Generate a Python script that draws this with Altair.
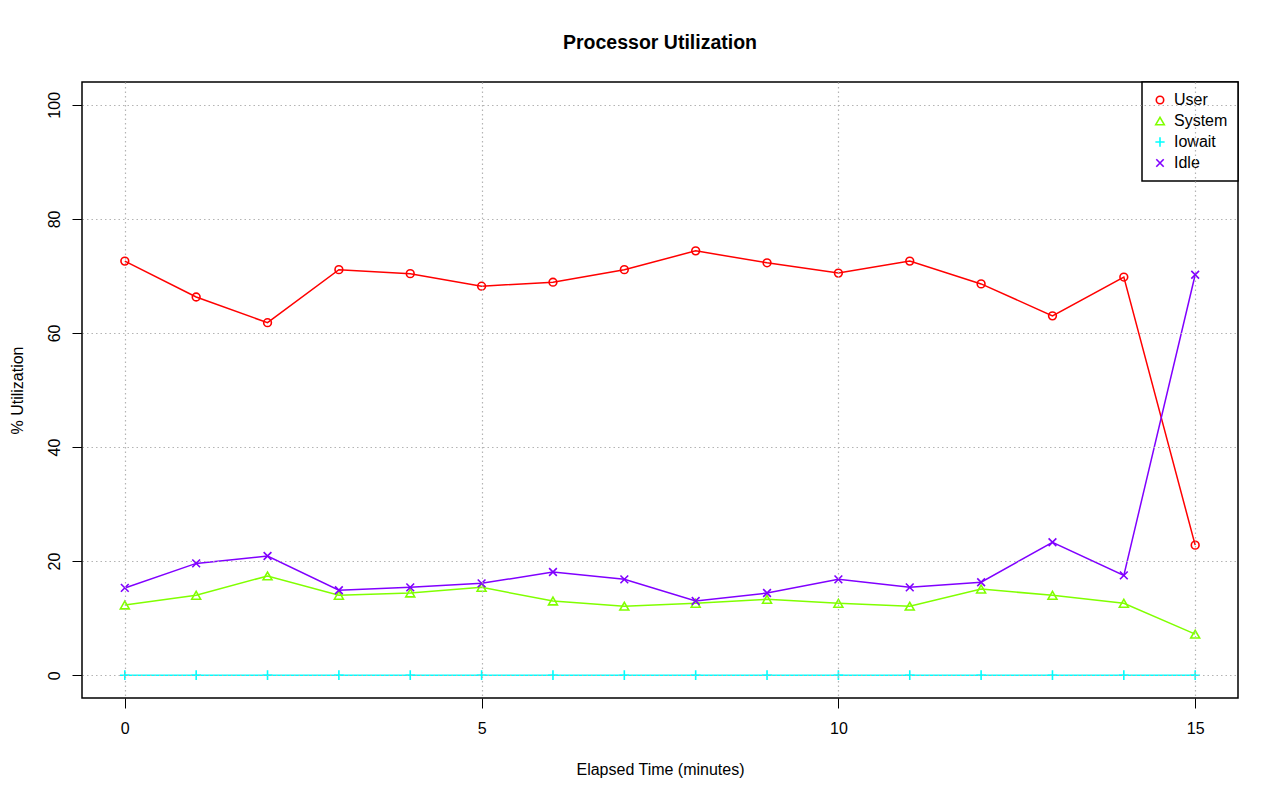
import altair as alt
import pandas as pd

minutes = list(range(16))
user = [72.6, 66.3, 61.8, 71.1, 70.4, 68.2, 68.9, 71.1, 74.4, 72.3, 70.5, 72.6, 68.6, 63.0, 69.8, 22.8]
system = [12.3, 14.0, 17.4, 14.0, 14.4, 15.4, 13.0, 12.1, 12.6, 13.3, 12.6, 12.1, 15.1, 14.0, 12.6, 7.2]
iowait = [0.0] * 16
idle = [15.3, 19.6, 20.9, 14.9, 15.4, 16.1, 18.1, 16.8, 13.0, 14.4, 16.8, 15.4, 16.3, 23.3, 17.5, 70.2]

series_names = ["User", "System", "Iowait", "Idle"]
series_colors = ["#FF0000", "#80FF00", "#00FFFF", "#8000FF"]
series_shapes = [
    "circle",
    "M-1.15,1L1.15,1L0,-1Z",
    "M-1.25,0L1.25,0M0,-1.25L0,1.25",
    "M-1,-1L1,1M-1,1L1,-1",
]
x_ticks = [0, 5, 10, 15]
y_ticks = [0, 20, 40, 60, 80, 100]

rows = []
for name, vals in zip(series_names, [user, system, iowait, idle]):
    for m, v in zip(minutes, vals):
        rows.append({"minute": m, "value": v, "series": name})
df = pd.DataFrame(rows)

FONT = "Liberation Sans"

x_enc = alt.X(
    "minute:Q",
    scale=alt.Scale(domain=[-0.6, 15.6], nice=False, zero=False),
    axis=alt.Axis(
        values=x_ticks, title="Elapsed Time (minutes)", grid=True,
        gridColor="#b4b4b4", gridDash=[1.5, 3], gridWidth=1.2,
        domain=False, tickColor="black", tickSize=10, tickWidth=1,
        labelFontSize=16, labelFont=FONT, labelColor="black", labelPadding=12,
        titleFontSize=16, titleFont=FONT, titleFontWeight="normal", titleColor="black",
        titlePadding=25, zindex=1,
    ),
)
y_enc = alt.Y(
    "value:Q",
    scale=alt.Scale(domain=[-4, 104], nice=False, zero=False),
    axis=alt.Axis(
        values=y_ticks, title="% Utilization", grid=True,
        gridColor="#b4b4b4", gridDash=[1.5, 3], gridWidth=1.2,
        domain=False, tickColor="black", tickSize=10, tickWidth=1,
        labelFontSize=16, labelFont=FONT, labelColor="black", labelAngle=270,
        labelAlign="center", labelBaseline="bottom", labelPadding=10,
        titleFontSize=16, titleFont=FONT, titleFontWeight="normal", titleColor="black",
        titlePadding=21, zindex=1,
    ),
)

color_scale = alt.Scale(domain=series_names, range=series_colors)
shape_scale = alt.Scale(domain=series_names, range=series_shapes)

lines = alt.Chart(df).mark_line(strokeWidth=1.5).encode(
    x=x_enc, y=y_enc,
    color=alt.Color("series:N", scale=color_scale, sort=series_names,
                    legend=alt.Legend(title=None)),
    detail="series:N",
)

points = alt.Chart(df).mark_point(filled=False, strokeWidth=1.6, size=60, opacity=1).encode(
    x=x_enc, y=y_enc,
    color=alt.Color("series:N", scale=color_scale, sort=series_names,
                    legend=alt.Legend(title=None)),
    shape=alt.Shape("series:N", scale=shape_scale, sort=series_names,
                    legend=alt.Legend(title=None)),
)

chart = alt.layer(lines, points).properties(
    width=1156, height=616,
    title=alt.Title("Processor Utilization", font=FONT, fontSize=19.5, fontWeight="bold",
                    color="black", anchor="middle", offset=28),
    padding={"left": 74, "top": 74, "right": 26, "bottom": 80},
    autosize=alt.AutoSizeParams(type="none"),
    background="white",
).configure_view(stroke="black", strokeWidth=1.5).configure_legend(
    orient="top-right", offset=0, strokeColor="black", fillColor="white",
    padding=10, labelFont=FONT, labelFontSize=16, labelColor="black",
    symbolSize=55, symbolStrokeWidth=1.6, rowPadding=5, labelOffset=6,
    cornerRadius=0, symbolOffset=0, strokeWidth=1.5,
)

chart.save("out.html", embed_options={"renderer": "svg", "actions": False})
